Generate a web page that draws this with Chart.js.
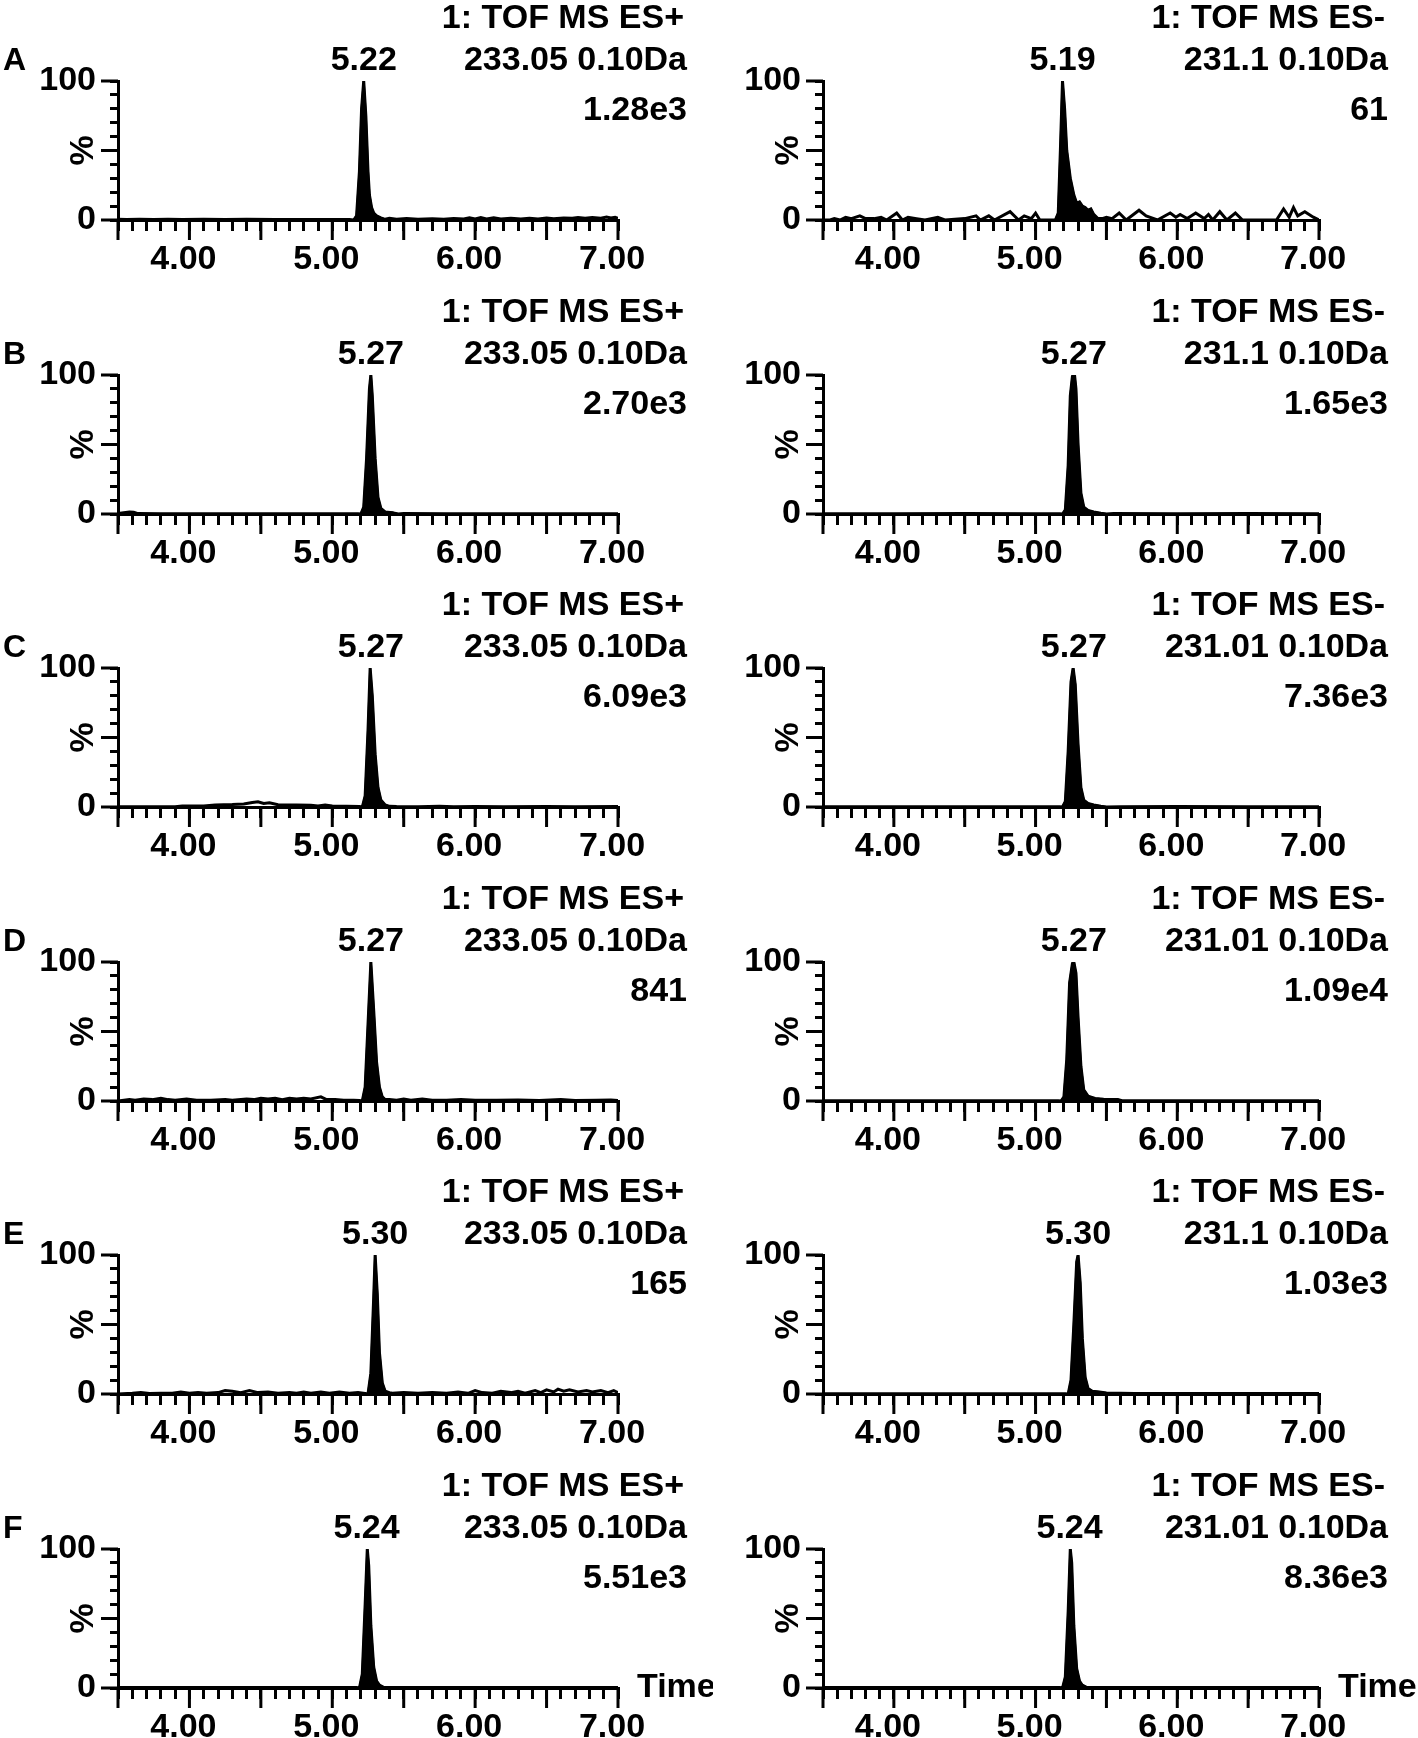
<!DOCTYPE html>
<html>
<head>
<meta charset="utf-8">
<script src="https://cdn.jsdelivr.net/npm/chart.js@4.4.1/dist/chart.umd.min.js"></script>
<style>
    html, body { margin: 0; padding: 0; background: #fff; overflow: hidden; }
    #wrap { position: relative; width: 1418px; height: 1738px; }
    #wrap canvas { position: absolute; }
</style>
</head>
<body>
<div id="wrap"></div>
<script>
// ---- labels ----
const panelLetters = ['A', 'B', 'C', 'D', 'E', 'F'];
const posRt = ['5.22', '5.27', '5.27', '5.27', '5.30', '5.24'];
const negRt = ['5.19', '5.27', '5.27', '5.27', '5.30', '5.24'];
const posMass = ['233.05 0.10Da', '233.05 0.10Da', '233.05 0.10Da', '233.05 0.10Da', '233.05 0.10Da', '233.05 0.10Da'];
const negMass = ['231.1 0.10Da', '231.1 0.10Da', '231.01 0.10Da', '231.01 0.10Da', '231.1 0.10Da', '231.01 0.10Da'];
const posIntensity = ['1.28e3', '2.70e3', '6.09e3', '841', '165', '5.51e3'];
const negIntensity = ['61', '1.65e3', '7.36e3', '1.09e4', '1.03e3', '8.36e3'];
const posMode = '1: TOF MS ES+';
const negMode = '1: TOF MS ES-';
const xTickLabels = [4, 5, 6, 7];
const yTickLabels = [0, 100];

// ---- traces [time (min), %] : peak part is filled, the rest is the baseline ----
const aPosPeak = [[5.15,0],[5.17,3],[5.19,35],[5.205,80],[5.22,100],[5.235,75],[5.25,35],[5.26,18],[5.275,9],[5.29,5],[5.31,3],[5.34,1.5],[5.37,0.5]];
const aPosBase = [[3.5,0.5],[3.56,0.3],[3.65,0.6],[3.75,0.3],[3.85,0.5],[3.95,0.3],[4.1,0.5],[4.25,0.3],[4.4,0.5],[4.6,0.3],[4.8,0.4],[5.0,0.3],[5.12,0.3],
    [5.40,1.2],[5.45,0.6],[5.52,1],[5.6,0.6],[5.7,0.9],[5.78,0.6],[5.85,1],[5.92,0.8],[5.96,1.6],[6.0,0.8],[6.04,1.7],[6.08,0.8],[6.13,1.6],[6.18,0.8],
    [6.25,1.2],[6.32,0.8],[6.38,1.3],[6.44,0.8],[6.5,1.5],[6.55,0.9],[6.62,1.5],[6.68,1.2],[6.72,1.8],[6.77,1.2],[6.82,1.8],[6.88,1.2],[6.92,2.2],[6.95,1.4],[6.98,2],[7.0,1.2]];
const aNegPeak = [[5.14,0],[5.16,5],[5.175,50],[5.19,100],[5.205,80],[5.22,50],[5.245,30],[5.27,18],[5.29,12],[5.31,13],[5.33,10],[5.35,9],[5.37,7],[5.39,8],[5.41,4],[5.44,1]];
const aNegBase = [[3.5,0],[3.55,0],[3.58,1],[3.62,0],[3.66,2],[3.70,1],[3.76,3],[3.80,1],[3.86,1],[3.91,2],[3.95,0],[4.02,5],[4.06,0],[4.10,2],[4.16,1],[4.22,0],
    [4.31,2],[4.36,0],[4.50,1],[4.58,3],[4.61,0],[4.67,3],[4.71,0],[4.82,6],[4.88,0],[4.92,3],[4.97,1],[5.00,5],[5.03,0],[5.12,0],
    [5.47,1],[5.50,2],[5.54,1],[5.59,5],[5.64,0],[5.73,7],[5.78,3],[5.86,0],[5.95,5],[5.99,2],[6.02,4],[6.07,1],[6.13,5],[6.19,1],[6.22,4],[6.25,0],
    [6.30,6],[6.35,0],[6.41,5],[6.46,0],[6.70,0],[6.75,8],[6.79,2],[6.82,9],[6.85,3],[6.90,6],[6.96,2],[7.0,0]];
const bPosPeak = [[5.20,0],[5.22,5],[5.24,40],[5.26,90],[5.27,100],[5.28,85],[5.30,40],[5.32,12],[5.34,4],[5.37,1.5],[5.42,1],[5.46,0]];
const bPosBase = [[3.5,0.3],[3.54,1],[3.58,1.5],[3.61,1.2],[3.64,0.3],[3.8,0.2],[4.2,0.2],[4.6,0.2],[5.0,0.2],[5.18,0.2],[5.5,0.3],[5.8,0.2],[6.2,0.2],[6.6,0.2],[7.0,0.2]];
const bNegPeak = [[5.19,0],[5.21,3],[5.23,35],[5.245,85],[5.26,99],[5.275,100],[5.285,90],[5.30,50],[5.32,15],[5.34,5],[5.37,2.5],[5.41,1.5],[5.46,0.5],[5.50,0]];
const bNegBase = [[3.5,0.2],[4.0,0.2],[4.5,0.3],[5.0,0.2],[5.17,0.2],[5.55,0.3],[6.0,0.2],[6.5,0.3],[7.0,0.2]];
const cPosPeak = [[5.21,0],[5.23,8],[5.25,55],[5.265,100],[5.28,80],[5.30,38],[5.32,14],[5.34,5],[5.37,1.5],[5.40,0.5]];
const cPosBase = [[3.5,0.2],[3.9,0.2],[3.95,0.8],[4.1,0.8],[4.18,1.5],[4.3,1.8],[4.38,2.2],[4.44,3.2],[4.48,3.8],[4.52,2.6],[4.56,3],[4.62,1.6],[4.75,1.4],
    [4.85,1.2],[4.9,0.8],[4.95,1.4],[5.0,0.8],[5.1,0.6],[5.19,0.4],[5.45,0.3],[5.6,0.2],[5.75,0.5],[5.85,0.2],[6.0,0.4],[6.2,0.2],[6.5,0.4],[6.7,0.2],[7.0,0.3]];
const cNegPeak = [[5.19,0],[5.21,4],[5.23,40],[5.25,90],[5.265,100],[5.28,88],[5.30,45],[5.32,14],[5.34,5],[5.37,2.5],[5.41,1.5],[5.46,0.5],[5.50,0]];
const cNegBase = [[3.5,0.2],[4.0,0.2],[4.5,0.2],[5.0,0.2],[5.17,0.2],[5.6,0.2],[6.0,0.3],[6.5,0.2],[7.0,0.2]];
const dPosPeak = [[5.21,0],[5.23,10],[5.25,55],[5.27,100],[5.29,65],[5.31,28],[5.33,10],[5.35,3],[5.37,1]];
const dPosBase = [[3.5,0],[3.58,1],[3.62,0.5],[3.68,1.5],[3.74,1],[3.80,2],[3.85,1],[3.90,0.5],[3.98,1.5],[4.05,0.5],[4.15,0.5],[4.25,1],[4.30,0.5],[4.40,1.5],
    [4.45,1],[4.50,2],[4.55,1.5],[4.60,2],[4.65,1],[4.70,2],[4.75,1.5],[4.80,2],[4.85,1.5],[4.92,3],[4.96,1],[5.02,1],[5.08,0.5],[5.15,0.5],[5.19,0.3],
    [5.40,1],[5.45,0.5],[5.50,1.5],[5.55,0.5],[5.63,1.5],[5.70,0.5],[5.80,0.5],[5.90,1],[6.00,0.5],[6.15,0.5],[6.30,0.7],[6.45,0.3],[6.60,1],[6.70,0.3],[6.85,0.5],[6.95,0.7],[7.0,0.3]];
const dNegPeak = [[5.18,0],[5.20,3],[5.22,30],[5.24,85],[5.26,99],[5.27,100],[5.285,92],[5.30,60],[5.32,25],[5.34,8],[5.37,3.5],[5.42,1.8],[5.48,1.2],[5.58,1],[5.61,0.2]];
const dNegBase = [[3.5,0.2],[4.0,0.2],[4.5,0.2],[5.0,0.2],[5.16,0.2],[5.65,0.2],[6.0,0.2],[6.5,0.2],[7.0,0.2]];
const ePosPeak = [[5.25,0],[5.27,15],[5.29,70],[5.30,100],[5.315,72],[5.33,30],[5.35,8],[5.37,2],[5.40,1]];
const ePosBase = [[3.5,0],[3.6,0.5],[3.66,1],[3.72,0.3],[3.8,0.5],[3.88,0.5],[3.94,1.5],[4.0,0.5],[4.06,1],[4.12,0.5],[4.2,1],[4.25,2.5],[4.3,2],[4.36,1],
    [4.42,2.5],[4.48,1],[4.55,1.5],[4.62,0.5],[4.7,1],[4.75,0.5],[4.8,1.5],[4.85,0.5],[4.92,1.5],[4.98,0.5],[5.05,1.5],[5.12,0.5],[5.18,1],[5.23,0.3],
    [5.42,0.5],[5.5,1],[5.6,0.5],[5.7,1],[5.8,0.5],[5.88,1.5],[5.95,0.5],[6.0,2.5],[6.05,1],[6.12,0.5],[6.18,2],[6.25,1],[6.3,2],[6.35,0.5],[6.42,2.5],
    [6.46,1],[6.5,3],[6.55,1.5],[6.58,3.5],[6.62,2],[6.66,3],[6.72,1.5],[6.78,2.5],[6.82,1.5],[6.88,2.5],[6.93,1],[6.97,2.5],[7.0,1]];
const eNegPeak = [[5.23,0],[5.25,10],[5.27,50],[5.29,95],[5.30,100],[5.315,80],[5.33,40],[5.35,12],[5.37,4],[5.40,2],[5.45,1.5],[5.50,0.8],[5.60,0.5]];
const eNegBase = [[3.5,0.2],[4.0,0.2],[4.5,0.2],[5.0,0.2],[5.21,0.2],[5.7,0.4],[6.0,0.4],[6.5,0.4],[7.0,0.4]];
const fPosPeak = [[5.19,0],[5.21,10],[5.23,60],[5.245,100],[5.255,88],[5.27,45],[5.29,15],[5.31,5],[5.33,2],[5.36,0.5]];
const fPosBase = [[3.5,0.3],[4.0,0.3],[4.5,0.3],[5.0,0.3],[5.17,0.3],[5.4,0.3],[6.0,0.3],[6.5,0.3],[7.0,0.3]];
const fNegPeak = [[5.19,0],[5.21,8],[5.23,55],[5.245,100],[5.255,90],[5.27,45],[5.29,14],[5.31,5],[5.33,2],[5.36,0.5]];
const fNegBase = [[3.5,0.3],[4.0,0.3],[4.5,0.3],[5.0,0.3],[5.17,0.3],[5.4,0.3],[6.0,0.3],[6.5,0.3],[7.0,0.3]];

const posPeaks = [aPosPeak, bPosPeak, cPosPeak, dPosPeak, ePosPeak, fPosPeak];
const posBases = [aPosBase, bPosBase, cPosBase, dPosBase, ePosBase, fPosBase];
const negPeaks = [aNegPeak, bNegPeak, cNegPeak, dNegPeak, eNegPeak, fNegPeak];
const negBases = [aNegBase, bNegBase, cNegBase, dNegBase, eNegBase, fNegBase];

// ---- drawing ----
const FONT = "'Liberation Sans Narrow', 'Arial Narrow', 'Liberation Sans', Arial, sans-serif";
const FONT_SIZE = 34;
Chart.defaults.font.family = FONT;
Chart.defaults.font.size = FONT_SIZE;
Chart.defaults.font.weight = 'bold';
Chart.defaults.color = '#000';

const ROW_H = 293.6;
const CANVAS_W = 713, CANVAS_H = 294;

// long ticks + all the text round each trace
const chromPlugin = {
    id: 'chrom',
    afterDraw(chart, args, o) {
        const ctx = chart.ctx;
        const xs = chart.scales.x, ys = chart.scales.y, a = chart.chartArea;
        ctx.save();
        ctx.strokeStyle = '#000';
        ctx.lineWidth = 3;
        ctx.beginPath();
        xs.ticks.forEach(t => {
            if (Math.abs(t.value * 2 - Math.round(t.value * 2)) < 1e-6) {
                const px = xs.getPixelForValue(t.value);
                ctx.moveTo(px, a.bottom);
                ctx.lineTo(px, a.bottom + 20);
            }
        });
        [0, 50, 100].forEach(v => {
            const py = ys.getPixelForValue(v);
            ctx.moveTo(a.left - 17, py);
            ctx.lineTo(a.left, py);
        });
        ctx.stroke();

        ctx.fillStyle = '#000';
        ctx.font = 'bold ' + FONT_SIZE + 'px ' + FONT;
        ctx.textBaseline = 'middle';
        ctx.textAlign = 'right';
        ctx.fillText(o.mode, a.right + 66, 19);
        ctx.fillText(o.mass, a.right + 69, 61);
        ctx.fillText(o.intensity, a.right + 69, 111);
        ctx.textAlign = 'center';
        ctx.fillText(o.rt, xs.getPixelForValue(parseFloat(o.rt)), 61);
        if (o.letter) {
            ctx.textAlign = 'left';
            ctx.font = 'bold ' + (FONT_SIZE - 2) + 'px Arial, "Liberation Sans", sans-serif';
            ctx.fillText(o.letter, 3, 61);
            ctx.font = 'bold ' + FONT_SIZE + 'px ' + FONT;
        }
        if (o.time) {
            ctx.textAlign = 'left';
            ctx.fillText('Time', a.right + 19, a.bottom);
        }
        ctx.translate(84, (a.top + a.bottom) / 2);
        ctx.rotate(-Math.PI / 2);
        ctx.textAlign = 'center';
        ctx.fillText('%', 0, 0);
        ctx.restore();
    }
};

function toPoints(arr) {
    return arr.map(([x, y]) => ({ x: x, y: y }));
}

function makePanel(row, right) {
    const canvas = document.createElement('canvas');
    canvas.width = CANVAS_W;
    canvas.height = CANVAS_H;
    canvas.style.left = (right ? 705 : 0) + 'px';
    canvas.style.top = Math.round(row * ROW_H) + 'px';
    document.getElementById('wrap').appendChild(canvas);

    const peak = right ? negPeaks[row] : posPeaks[row];
    const base = right ? negBases[row] : posBases[row];
    const trace = base.concat(peak).sort((p, q) => p[0] - q[0]);

    new Chart(canvas, {
        type: 'line',
        data: {
            datasets: [
                { data: toPoints(trace), borderColor: '#000', borderWidth: 3, pointRadius: 0, fill: false, tension: 0 },
                { data: toPoints(peak), borderColor: '#000', backgroundColor: '#000', borderWidth: 2, pointRadius: 0, fill: 'origin', tension: 0 }
            ]
        },
        options: {
            responsive: false,
            animation: false,
            devicePixelRatio: 1,
            layout: { padding: { top: 81, right: CANVAS_W - (right ? 614 : 618), left: 0, bottom: 0 } },
            plugins: {
                legend: { display: false },
                tooltip: { enabled: false },
                chrom: {
                    mode: right ? negMode : posMode,
                    mass: right ? negMass[row] : posMass[row],
                    intensity: right ? negIntensity[row] : posIntensity[row],
                    rt: right ? negRt[row] : posRt[row],
                    letter: right ? '' : panelLetters[row],
                    time: row === 5
                }
            },
            scales: {
                x: {
                    type: 'linear',
                    min: 3.5,
                    max: 7.0,
                    afterFit: s => { s.height = CANVAS_H - 220; },
                    border: { display: true, color: '#000', width: 3 },
                    grid: { drawOnChartArea: false, drawTicks: true, tickLength: 11, lineWidth: 3, color: '#000' },
                    ticks: {
                        stepSize: 0.1,
                        autoSkip: false,
                        maxRotation: 0,
                        padding: 8,
                        labelOffset: -6,
                        callback: v => xTickLabels.some(t => Math.abs(t - v) < 1e-6) ? v.toFixed(2) : ''
                    }
                },
                y: {
                    min: 0,
                    max: 100,
                    afterFit: s => { s.width = 118; },
                    border: { display: true, color: '#000', width: 3 },
                    grid: { drawOnChartArea: false, drawTicks: true, tickLength: 8, lineWidth: 3, color: '#000' },
                    ticks: {
                        stepSize: 10,
                        autoSkip: false,
                        padding: 14,
                        callback: v => yTickLabels.includes(v) ? String(v) : ''
                    }
                }
            }
        },
        plugins: [chromPlugin]
    });
}

for (let r = 0; r < 6; r++) {
    makePanel(r, false);
    makePanel(r, true);
}
</script>
</body>
</html>
